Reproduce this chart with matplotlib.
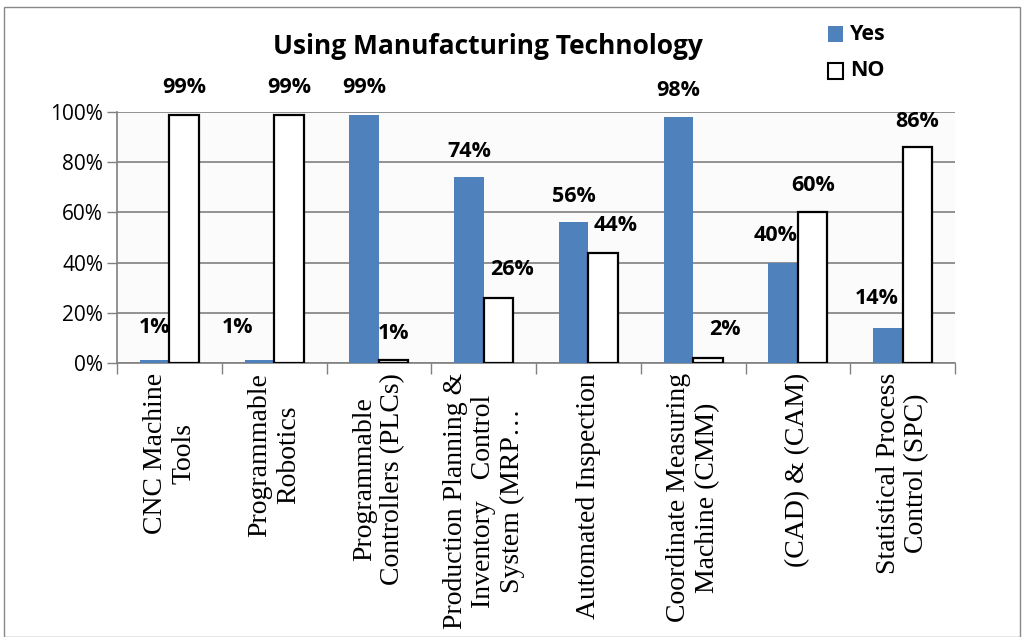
import matplotlib
matplotlib.use("Agg")
import matplotlib.pyplot as plt
from matplotlib.patches import Rectangle
import numpy as np

categories = [
    "CNC Machine\nTools",
    "Programmable\nRobotics",
    "Programmable\nControllers (PLCs)",
    "Production Planning &\nInventory   Control\nSystem (MRP…",
    "Automated Inspection",
    "Coordinate Measuring\nMachine (CMM)",
    "(CAD) & (CAM)",
    "Statistical Process\nControl (SPC)",
]
yes_vals = [1, 1, 99, 74, 56, 98, 40, 14]
no_vals = [99, 99, 1, 26, 44, 2, 60, 86]
y_ticks = [0, 20, 40, 60, 80, 100]
y_tick_labels = ["0%", "20%", "40%", "60%", "80%", "100%"]

# label offsets in pixels (dx, dy) relative to bar top centre
yes_off = [(0, 33), (-22, 33), (0, 27), (0, 26), (0, 26), (0, 27), (-8, 27), (-11, 29)]
no_off = [(0, 27), (0, 27), (0, 27), (14, 28), (12, 27), (17, 28), (0, 27), (0, 26)]

W, H = 1027, 637
fig = plt.figure(figsize=(W / 100, H / 100), dpi=100)
ax = fig.add_axes([117 / W, 1 - 363 / H, (955 - 117) / W, (363 - 112) / H])
ax.set_facecolor("#fbfbfb")

x = np.arange(len(categories))
bw = 0.282
ax.bar(x - bw / 2, yes_vals, bw, color="#4F81BD", edgecolor="none", zorder=3)
ax.bar(x + bw / 2, no_vals, bw, color="white", edgecolor="black", linewidth=1.6, zorder=3)

lab_font = dict(fontsize=15.5, fontweight="bold", family="Open Sans", color="black")
for i in range(len(categories)):
    ax.annotate(f"{yes_vals[i]}%", (x[i] - bw / 2, yes_vals[i]), xytext=yes_off[i],
                textcoords="offset pixels", ha="center", va="center", zorder=5,
                annotation_clip=False, **lab_font)
    ax.annotate(f"{no_vals[i]}%", (x[i] + bw / 2, no_vals[i]), xytext=no_off[i],
                textcoords="offset pixels", ha="center", va="center", zorder=5,
                annotation_clip=False, **lab_font)

ax.set_xlim(-0.5, len(categories) - 0.5)
ax.set_ylim(0, 100)
ax.set_yticks(y_ticks)
ax.set_yticklabels(y_tick_labels, fontsize=15, family="Open Sans")
ax.yaxis.grid(True, color="#808080", linewidth=1.2, zorder=0)
ax.set_axisbelow(True)

ax.set_xticks(np.arange(len(categories) + 1) - 0.5, minor=False)
ax.set_xticklabels([""] * (len(categories) + 1))
ax.tick_params(axis="x", length=8, color="#808080", width=1)
ax.tick_params(axis="y", length=7, color="#808080", width=1, pad=3)
for i, c in enumerate(categories):
    ax.annotate(c, (x[i], 0), xytext=(0, -10), textcoords="offset pixels",
                rotation=90, ha="center", va="top", annotation_clip=False,
                fontsize=20, family="Liberation Serif",
                multialignment="center", linespacing=1.18)

for s in ["top", "right"]:
    ax.spines[s].set_visible(False)
for s in ["left", "bottom"]:
    ax.spines[s].set_color("#808080")
    ax.spines[s].set_linewidth(1.2)

fig.text(488 / W, 1 - 46 / H, "Using Manufacturing Technology", ha="center", va="center",
         fontsize=19, fontweight="bold", family="Open Sans")

# legend
for j, (lab, fc, ec) in enumerate([("Yes", "#4F81BD", "none"), ("NO", "white", "black")]):
    cy = 34 + j * 37
    fig.patches.append(Rectangle((828 / W, 1 - (cy + 7.5) / H), 15 / W, 15 / H,
                                 transform=fig.transFigure, facecolor=fc, edgecolor=ec,
                                 linewidth=1.5))
    fig.text(850 / W, 1 - cy / H, lab, ha="left", va="center", fontsize=15.5,
             fontweight="bold", family="Open Sans")

fig.patches.append(Rectangle((4 / W, 0), (1020 - 4) / W, 1 - 7 / H, transform=fig.transFigure,
                             facecolor="none", edgecolor="#888888", linewidth=1))

fig.savefig("out.png", dpi=100)
